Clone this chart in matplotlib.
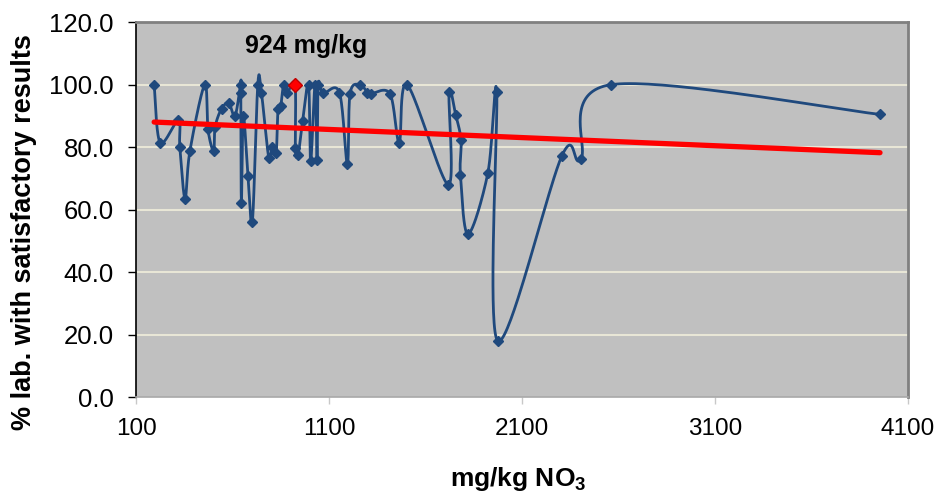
import numpy as np
import matplotlib
matplotlib.use('Agg')
import matplotlib.pyplot as plt

plt.rcParams['font.family'] = ['Liberation Sans', 'DejaVu Sans']
plt.rcParams['mathtext.fontset'] = 'custom'
plt.rcParams['mathtext.rm'] = 'Liberation Sans'
plt.rcParams['mathtext.bf'] = 'Liberation Sans:bold'

# concentration (mg/kg NO3) and % of labs with satisfactory results, in data order
conc = [194, 225, 320, 327, 354, 379, 456, 473, 502, 510,
        543, 581, 613, 642, 643, 646, 656, 680, 703, 731,
        750, 788, 805, 826, 836, 850, 865, 883, 924, 926,
        940, 963, 994, 1005, 1028, 1038, 1044, 1070, 1154, 1195,
        1209, 1261, 1299, 1316, 1416, 1464, 1505, 1718, 1722, 1756,
        1784, 1781, 1820, 1923, 1969, 1974, 2307, 2405, 2560, 3955]
pct_ok = [100.0, 81.5, 88.7, 80.0, 63.6, 78.7, 100.0, 85.7, 78.8, 86.5,
          92.3, 94.1, 90.0, 100.0, 97.4, 62.1, 89.9, 70.7, 56.2, 100.0,
          97.3, 76.5, 80.0, 78.3, 92.2, 93.3, 100.0, 97.5, 100.0, 79.7,
          77.6, 88.3, 100.0, 75.5, 100.0, 75.8, 100.0, 97.3, 97.5, 74.7,
          97.1, 100.0, 97.5, 97.1, 97.1, 81.5, 100.0, 68.0, 97.6, 90.4,
          82.2, 71.2, 52.2, 71.7, 97.7, 18.1, 77.3, 76.2, 100.0, 90.5]

# highlighted sample
hl_conc = [924]
hl_pct = [100.0]
hl_label = "924 mg/kg"

x_ticks = [100, 1100, 2100, 3100, 4100]
y_ticks = [0, 20, 40, 60, 80, 100, 120]


def smooth(xs, ys, n=40):
    # excel-like smoothed line: cubic bezier, catmull-rom control points
    p = np.column_stack([xs, ys]).astype(float)
    p = np.vstack([p[0], p, p[-1]])
    t = np.linspace(0, 1, n)[:, None]
    out = []
    for i in range(1, len(p) - 2):
        p0, p1, p2, p3 = p[i - 1], p[i], p[i + 1], p[i + 2]
        c1 = p1 + (p2 - p0) / 6
        c2 = p2 - (p3 - p1) / 6
        seg = ((1 - t) ** 3) * p1 + 3 * ((1 - t) ** 2) * t * c1 \
            + 3 * (1 - t) * t ** 2 * c2 + t ** 3 * p2
        out.append(seg)
    out = np.vstack(out)
    return out[:, 0], out[:, 1]


fig = plt.figure(figsize=(9.38, 4.93), dpi=100)
ax = fig.add_axes([0.145, 0.194, 0.823, 0.761])
ax.set_facecolor('#C0C0C0')

for y in y_ticks[1:-1]:
    ax.axhline(y, color='#E8E6D6', lw=1.5, zorder=1)

sx, sy = smooth(conc, pct_ok)
ax.plot(sx, sy, color='#1F497D', lw=2, zorder=3)
ax.plot(conc, pct_ok, 'D', color='#1F497D', markersize=5.5, zorder=4)
ax.plot(hl_conc, hl_pct, 'D', color='red', markeredgecolor='#C00000',
        markersize=7, zorder=5)

# linear trend line over the data range
k, b = np.polyfit(conc, pct_ok, 1)
tx = np.array([min(conc), max(conc)])
ax.plot(tx, k * tx + b, color='red', lw=3.8, solid_capstyle='round', zorder=4)

ax.text(hl_conc[0] + 55, 112.5, hl_label, ha='center', va='center',
        fontsize=18, fontweight='bold')

ax.set_xlim(100, 4100)
ax.set_ylim(0, 120)
ax.set_xticks(x_ticks)
ax.set_yticks(y_ticks)
ax.set_yticklabels([f"{v:.1f}" for v in y_ticks])
ax.tick_params(axis='y', labelsize=18.5, length=6, width=1, pad=10)
ax.tick_params(axis='x', labelsize=17.5, length=5, width=1, color='#C8C8C8', pad=10)

ax.spines['left'].set_color('black')
ax.spines['left'].set_linewidth(1.2)
for s in ['top', 'right']:
    ax.spines[s].set_color('#808080')
    ax.spines[s].set_linewidth(2)
ax.spines['bottom'].set_color('#A8A8A8')
ax.spines['bottom'].set_linewidth(1.2)

ax.set_ylabel("% lab. with satisfactory results", fontsize=19.5, fontweight='bold')
ax.yaxis.set_label_coords(-0.128, 0.44)
ax.set_xlabel(r"mg/kg NO$_\mathbf{3}$", fontsize=19, fontweight='bold')
ax.xaxis.set_label_coords(0.495, -0.18)

fig.savefig('out.png', dpi=100)
